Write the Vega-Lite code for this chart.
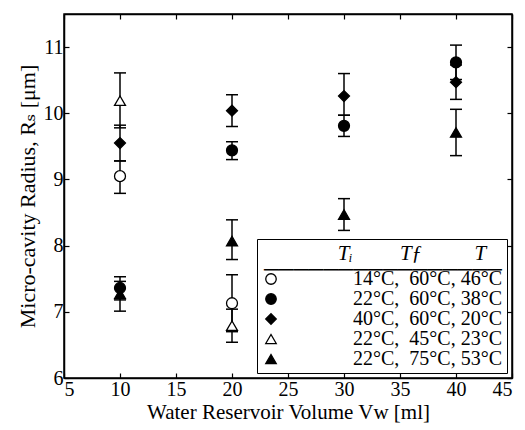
{
  "$schema": "https://vega.github.io/schema/vega-lite/v6.json",
  "width": 448,
  "height": 364,
  "autosize": "none",
  "padding": {"left": 64, "top": 14, "right": 13, "bottom": 52},
  "background": "white",
  "config": {
    "font": "Liberation Serif, Times New Roman, DejaVu Serif, serif",
    "view": {"stroke": "black", "strokeWidth": 1.5},
    "axis": {
      "domainColor": "black", "domainWidth": 1.5,
      "tickColor": "black", "tickSize": -5, "tickWidth": 1.2,
      "labelFont": "Liberation Serif, Times New Roman, DejaVu Serif, serif", "labelFontSize": 20, "labelColor": "black",
      "titleFont": "Liberation Serif, Times New Roman, DejaVu Serif, serif", "titleFontSize": 21, "titleFontWeight": "normal", "titleColor": "black",
      "grid": false
    },
    "legend": {
      "orient": "bottom-right", "offset": 5,
      "strokeColor": "black", "fillColor": "white", "padding": 4,
      "titleFont": "Liberation Serif, Times New Roman, DejaVu Serif, serif", "titleFontStyle": "italic", "titleFontSize": 21, "titleFontWeight": "normal", "titleAnchor": "end", "titleColor": "black", "titlePadding": -11, "titleLineHeight": 16, "titleLimit": 400,
      "labelFont": "Liberation Serif, Times New Roman, DejaVu Serif, serif", "labelFontSize": 20, "labelColor": "black", "labelOffset": 72, "labelLimit": 300,
      "symbolSize": 110, "symbolStrokeColor": "black", "symbolStrokeWidth": 1.3, "rowPadding": 0
    }
  },
  "data": {
    "values": [
      {"series": "14°C,\u00a0\u00a060°C,\u00a046°C", "V": 10, "R": 9.05, "lo": 8.79, "hi": 9.28},
      {"series": "14°C,\u00a0\u00a060°C,\u00a046°C", "V": 20, "R": 7.13, "lo": 6.70, "hi": 7.56},
      {"series": "22°C,\u00a0\u00a060°C,\u00a038°C", "V": 10, "R": 7.36, "lo": 7.18, "hi": 7.53},
      {"series": "22°C,\u00a0\u00a060°C,\u00a038°C", "V": 20, "R": 9.44, "lo": 9.30, "hi": 9.57},
      {"series": "22°C,\u00a0\u00a060°C,\u00a038°C", "V": 30, "R": 9.81, "lo": 9.65, "hi": 9.97},
      {"series": "22°C,\u00a0\u00a060°C,\u00a038°C", "V": 40, "R": 10.77, "lo": 10.51, "hi": 11.03},
      {"series": "40°C,\u00a0\u00a060°C,\u00a020°C", "V": 10, "R": 9.55, "lo": 9.28, "hi": 9.82},
      {"series": "40°C,\u00a0\u00a060°C,\u00a020°C", "V": 20, "R": 10.04, "lo": 9.80, "hi": 10.28},
      {"series": "40°C,\u00a0\u00a060°C,\u00a020°C", "V": 30, "R": 10.26, "lo": 9.97, "hi": 10.60},
      {"series": "40°C,\u00a0\u00a060°C,\u00a020°C", "V": 40, "R": 10.47, "lo": 10.21, "hi": 10.73},
      {"series": "22°C,\u00a0\u00a045°C,\u00a023°C", "V": 10, "R": 10.19, "lo": 9.78, "hi": 10.61},
      {"series": "22°C,\u00a0\u00a045°C,\u00a023°C", "V": 20, "R": 6.79, "lo": 6.54, "hi": 7.04},
      {"series": "22°C,\u00a0\u00a075°C,\u00a053°C", "V": 10, "R": 7.27, "lo": 7.01, "hi": 7.46},
      {"series": "22°C,\u00a0\u00a075°C,\u00a053°C", "V": 20, "R": 8.07, "lo": 7.79, "hi": 8.39},
      {"series": "22°C,\u00a0\u00a075°C,\u00a053°C", "V": 30, "R": 8.47, "lo": 8.23, "hi": 8.71},
      {"series": "22°C,\u00a0\u00a075°C,\u00a053°C", "V": 40, "R": 9.71, "lo": 9.36, "hi": 10.06}
    ]
  },
  "layer": [
    {
      "mark": {"type": "rule", "color": "black", "strokeWidth": 1.5},
      "encoding": {
        "x": {"field": "V", "type": "quantitative", "scale": {"domain": [5, 45]},
              "axis": {"orient": "top", "labels": false, "title": null, "values": [5, 10, 15, 20, 25, 30, 35, 40, 45]}},
        "y": {"field": "lo", "type": "quantitative", "scale": {"domain": [6, 11.2]},
              "axis": {"orient": "right", "labels": false, "title": null, "values": [6, 7, 8, 9, 10, 11]}},
        "y2": {"field": "hi"}
      }
    },
    {
      "mark": {"type": "tick", "orient": "horizontal", "size": 12, "thickness": 1.5, "color": "black", "opacity": 1},
      "encoding": {
        "x": {"field": "V", "type": "quantitative", "axis": null},
        "y": {"field": "lo", "type": "quantitative", "axis": null}
      }
    },
    {
      "mark": {"type": "tick", "orient": "horizontal", "size": 12, "thickness": 1.5, "color": "black", "opacity": 1},
      "encoding": {
        "x": {"field": "V", "type": "quantitative", "axis": null},
        "y": {"field": "hi", "type": "quantitative", "axis": null}
      }
    },
    {
      "mark": {"type": "point", "filled": true, "size": 120, "strokeWidth": 1.3, "opacity": 1},
      "encoding": {
        "x": {"field": "V", "type": "quantitative",
              "axis": {"title": "Water Reservoir Volume Vw [ml]", "labelPadding": 6, "titlePadding": 2, "values": [5, 10, 15, 20, 25, 30, 35, 40, 45]}},
        "y": {"field": "R", "type": "quantitative",
              "axis": {"title": "Micro-cavity Radius, Rₛ [μm]", "titleFontSize": 22, "labelPadding": 6, "values": [6, 7, 8, 9, 10, 11]}},
        "stroke": {
          "field": "series", "type": "nominal",
          "scale": {"domain": ["14°C,\u00a0\u00a060°C,\u00a046°C", "22°C,\u00a0\u00a060°C,\u00a038°C", "40°C,\u00a0\u00a060°C,\u00a020°C", "22°C,\u00a0\u00a045°C,\u00a023°C", "22°C,\u00a0\u00a075°C,\u00a053°C"],
                    "range": ["black", "black", "black", "black", "black"]},
          "legend": {"title": ["Tᵢ\u00a0\u00a0\u00a0\u00a0\u00a0\u00a0\u00a0\u00a0\u00a0Tƒ\u00a0\u00a0\u00a0\u00a0\u00a0\u00a0\u00a0\u00a0\u00a0\u00a0T\u00a0\u00a0\u00a0\u200b", "────────────────"]}
        },
        "shape": {
          "field": "series", "type": "nominal",
          "scale": {"domain": ["14°C,\u00a0\u00a060°C,\u00a046°C", "22°C,\u00a0\u00a060°C,\u00a038°C", "40°C,\u00a0\u00a060°C,\u00a020°C", "22°C,\u00a0\u00a045°C,\u00a023°C", "22°C,\u00a0\u00a075°C,\u00a053°C"],
                    "range": ["circle", "circle", "diamond", "triangle-up", "triangle-up"]},
          "legend": {"title": ["Tᵢ\u00a0\u00a0\u00a0\u00a0\u00a0\u00a0\u00a0\u00a0\u00a0Tƒ\u00a0\u00a0\u00a0\u00a0\u00a0\u00a0\u00a0\u00a0\u00a0\u00a0T\u00a0\u00a0\u00a0\u200b", "────────────────"]}
        },
        "fill": {
          "field": "series", "type": "nominal",
          "scale": {"domain": ["14°C,\u00a0\u00a060°C,\u00a046°C", "22°C,\u00a0\u00a060°C,\u00a038°C", "40°C,\u00a0\u00a060°C,\u00a020°C", "22°C,\u00a0\u00a045°C,\u00a023°C", "22°C,\u00a0\u00a075°C,\u00a053°C"],
                    "range": ["white", "black", "black", "white", "black"]},
          "legend": {"title": ["Tᵢ\u00a0\u00a0\u00a0\u00a0\u00a0\u00a0\u00a0\u00a0\u00a0Tƒ\u00a0\u00a0\u00a0\u00a0\u00a0\u00a0\u00a0\u00a0\u00a0\u00a0T\u00a0\u00a0\u00a0\u200b", "────────────────"]}
        }
      }
    }
  ],
  "resolve": {"axis": {"x": "independent", "y": "independent"}}
}
